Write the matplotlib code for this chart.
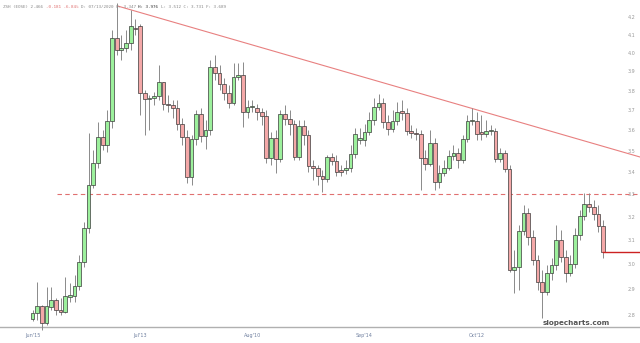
import matplotlib
matplotlib.use("Agg")
import matplotlib.pyplot as plt
from matplotlib.patches import Rectangle

opens = [2.785, 2.808, 2.834, 2.770, 2.830, 2.858, 2.819, 2.811, 2.869, 2.873,
         2.913, 3.010, 3.152, 3.342, 3.443, 3.567, 3.529, 3.646, 4.081, 4.015,
         4.026, 4.054, 4.140, 4.149, 3.788, 3.756, 3.761, 3.772, 3.845, 3.731,
         3.726, 3.711, 3.631, 3.567, 3.379, 3.558, 3.681, 3.572, 3.601, 3.924,
         3.892, 3.834, 3.788, 3.736, 3.871, 3.881, 3.691, 3.716, 3.711, 3.691,
         3.671, 3.467, 3.562, 3.462, 3.681, 3.656, 3.631, 3.472, 3.621, 3.577,
         3.429, 3.420, 3.383, 3.370, 3.472, 3.453, 3.411, 3.411, 3.420, 3.486,
         3.553, 3.553, 3.592, 3.651, 3.716, 3.736, 3.641, 3.606, 3.646, 3.696,
         3.686, 3.596, 3.587, 3.582, 3.467, 3.438, 3.539, 3.356, 3.397, 3.420,
         3.476, 3.491, 3.457, 3.558, 3.646, 3.646, 3.592, 3.582, 3.596, 3.596,
         3.462, 3.491, 3.415, 2.977, 2.989, 3.139, 3.217, 3.114, 3.018, 2.929,
         2.889, 2.965, 2.997, 3.101, 3.030, 2.965, 3.001, 3.122, 3.204, 3.256,
         3.243, 3.213, 3.161]
highs = [2.819, 2.929, 2.838, 2.909, 2.909, 2.866, 2.866, 2.949, 2.925, 2.957,
         3.038, 3.178, 3.586, 3.505, 3.641, 3.601, 3.701, 4.126, 4.281, 4.098,
         4.126, 4.240, 4.190, 4.160, 3.803, 3.777, 3.793, 3.934, 3.845, 3.777,
         3.751, 3.751, 3.661, 3.601, 3.577, 3.701, 3.711, 3.651, 3.961, 3.988,
         3.934, 3.866, 3.829, 3.945, 3.945, 3.950, 3.751, 3.751, 3.731, 3.711,
         3.701, 3.592, 3.601, 3.701, 3.726, 3.701, 3.651, 3.651, 3.651, 3.601,
         3.457, 3.434, 3.411, 3.481, 3.491, 3.481, 3.434, 3.457, 3.529, 3.611,
         3.611, 3.631, 3.691, 3.761, 3.782, 3.761, 3.676, 3.701, 3.741, 3.751,
         3.711, 3.626, 3.611, 3.601, 3.505, 3.601, 3.562, 3.434, 3.457, 3.505,
         3.529, 3.515, 3.577, 3.676, 3.711, 3.691, 3.676, 3.651, 3.626, 3.611,
         3.515, 3.505, 3.434, 3.059, 3.165, 3.252, 3.239, 3.143, 3.038, 2.977,
         2.997, 3.026, 3.165, 3.143, 3.059, 3.038, 3.152, 3.230, 3.306, 3.306,
         3.274, 3.252, 3.186]
lows = [2.777, 2.781, 2.743, 2.762, 2.819, 2.800, 2.800, 2.808, 2.850, 2.850,
        2.897, 2.989, 3.130, 3.328, 3.420, 3.505, 3.496, 3.611, 3.988, 3.961,
        4.004, 4.015, 4.100, 3.676, 3.577, 3.601, 3.726, 3.751, 3.701, 3.691,
        3.661, 3.601, 3.529, 3.351, 3.342, 3.529, 3.543, 3.510, 3.577, 3.855,
        3.803, 3.751, 3.711, 3.726, 3.855, 3.616, 3.661, 3.691, 3.651, 3.626,
        3.443, 3.434, 3.397, 3.448, 3.626, 3.577, 3.457, 3.457, 3.529, 3.402,
        3.365, 3.342, 3.310, 3.356, 3.434, 3.383, 3.383, 3.393, 3.402, 3.467,
        3.534, 3.524, 3.577, 3.626, 3.701, 3.611, 3.577, 3.592, 3.626, 3.651,
        3.577, 3.562, 3.553, 3.319, 3.411, 3.429, 3.319, 3.328, 3.383, 3.411,
        3.457, 3.420, 3.443, 3.543, 3.626, 3.553, 3.553, 3.567, 3.577, 3.448,
        3.448, 3.402, 2.969, 2.885, 2.897, 3.122, 3.080, 2.997, 2.897, 2.789,
        2.877, 2.937, 2.977, 3.010, 2.929, 2.953, 2.985, 3.101, 3.186, 3.221,
        3.186, 3.135, 3.026]
closes = [2.808, 2.834, 2.770, 2.834, 2.858, 2.819, 2.811, 2.873, 2.877, 2.913,
          3.010, 3.152, 3.342, 3.443, 3.567, 3.529, 3.646, 4.081, 4.015, 4.026,
          4.054, 4.149, 4.130, 3.788, 3.756, 3.761, 3.772, 3.845, 3.731, 3.726,
          3.711, 3.631, 3.567, 3.379, 3.558, 3.681, 3.572, 3.601, 3.924, 3.892,
          3.834, 3.788, 3.736, 3.871, 3.881, 3.691, 3.716, 3.721, 3.691, 3.671,
          3.467, 3.562, 3.462, 3.681, 3.656, 3.631, 3.472, 3.621, 3.577, 3.429,
          3.420, 3.383, 3.370, 3.472, 3.453, 3.402, 3.402, 3.420, 3.486, 3.582,
          3.562, 3.592, 3.651, 3.716, 3.736, 3.641, 3.606, 3.646, 3.691, 3.686,
          3.596, 3.587, 3.582, 3.467, 3.438, 3.539, 3.356, 3.397, 3.420, 3.476,
          3.491, 3.457, 3.558, 3.646, 3.651, 3.582, 3.582, 3.596, 3.601, 3.462,
          3.491, 3.415, 2.977, 2.989, 3.139, 3.217, 3.114, 3.018, 2.929, 2.889,
          2.965, 2.997, 3.101, 3.030, 2.965, 3.001, 3.122, 3.204, 3.256, 3.243,
          3.213, 3.161, 3.051]

x_tick_pos = [0, 23, 47, 71, 95]
x_tick_labels = ["Jun'15", "Jul'13", "Aug'10", "Sep'14", "Oct'12"]
y_ticks = [2.8, 2.9, 3.0, 3.1, 3.2, 3.3, 3.4, 3.5, 3.6, 3.7, 3.8, 3.9, 4.0, 4.1, 4.2]
y_tick_labels = ["2.8", "2.9", "3.0", "3.1", "3.2", "3.3", "3.4", "3.5", "3.6", "3.7",
                 "3.8", "3.9", "4.0", "4.1", "4.2"]
trend_x = [18.2, 130.0]
trend_y = [4.263, 3.471]
support_level = 3.30
support_start = 5.2
header_parts = [("ZSH (EOSE) 2.466", "#888888"), ("-0.181 -6.84%", "#e07070"),
                ("D: 07/13/2020 O: 3.347", "#888888"), ("H: 3.976", "#333333"),
                ("L: 3.512 C: 3.731 F: 3.689", "#888888")]

fig = plt.figure(figsize=(6.4, 3.43), dpi=100)
ax = fig.add_axes([0, 16 / 343, 1, 1 - 16 / 343])
ax.set_yscale("log")
ax.set_xlim(-6.95, 129.9)
ax.set_ylim(2.755, 4.298)

n = len(opens)
bw = 0.8
for i in range(n):
    o, h, l, c = opens[i], highs[i], lows[i], closes[i]
    up = c >= o
    fc = "#9cf09c" if up else "#f4a8a8"
    ax.plot([i, i], [l, h], color="#8a8a8a", lw=0.7, zorder=2,
            solid_capstyle="butt", clip_on=False)
    lo, hi = min(o, c), max(o, c)
    if hi - lo < 0.004:
        hi = lo + 0.004
    ax.add_patch(Rectangle((i - bw / 2, lo), bw, hi - lo, facecolor=fc,
                           edgecolor="#3a3a3a", lw=0.5, zorder=3, clip_on=False))

ax.plot(trend_x, trend_y, color="#e88080", lw=0.8, zorder=1)
ax.plot([support_start, 130], [support_level, support_level], color="#e07070",
        lw=0.8, ls=(0, (4, 3)), zorder=1)
ax.plot([n - 1, 130], [closes[-1], closes[-1]], color="#cc2222", lw=1.0, zorder=4)

ax.set_yticks(y_ticks)
ax.set_yticklabels(y_tick_labels)
ax.yaxis.set_minor_locator(matplotlib.ticker.NullLocator())
ax.yaxis.tick_right()
ax.tick_params(axis="y", direction="in", length=0, pad=-9, labelsize=3.5,
               labelcolor="#999999")
ax.set_xticks(x_tick_pos)
ax.set_xticklabels(x_tick_labels)
ax.tick_params(axis="x", length=0, pad=4, labelsize=3.5, labelcolor="#7080a0")

for s in ["top", "left", "right"]:
    ax.spines[s].set_visible(False)
ax.spines["bottom"].set_color("#b0b0b0")
ax.spines["bottom"].set_linewidth(1.0)
ax.spines["bottom"].set_zorder(1)

# header: parts laid out left to right by their measured widths
fs = 3.1
fig.canvas.draw()
renderer = fig.canvas.get_renderer()
gap_px = 2.6
x_px = 3.0
for txt, col in header_parts:
    t = fig.text(x_px / 640, 1 - 8 / 343, txt, fontsize=fs, color=col,
                 family="DejaVu Sans Mono", va="baseline", ha="left")
    w = t.get_window_extent(renderer=renderer).width
    x_px += w + gap_px

fig.text(0.953, 18 / 343, "slopecharts.com", fontsize=5.2, color="#555555",
         ha="right", va="baseline", fontweight="semibold")

fig.savefig("out.png", dpi=100)
